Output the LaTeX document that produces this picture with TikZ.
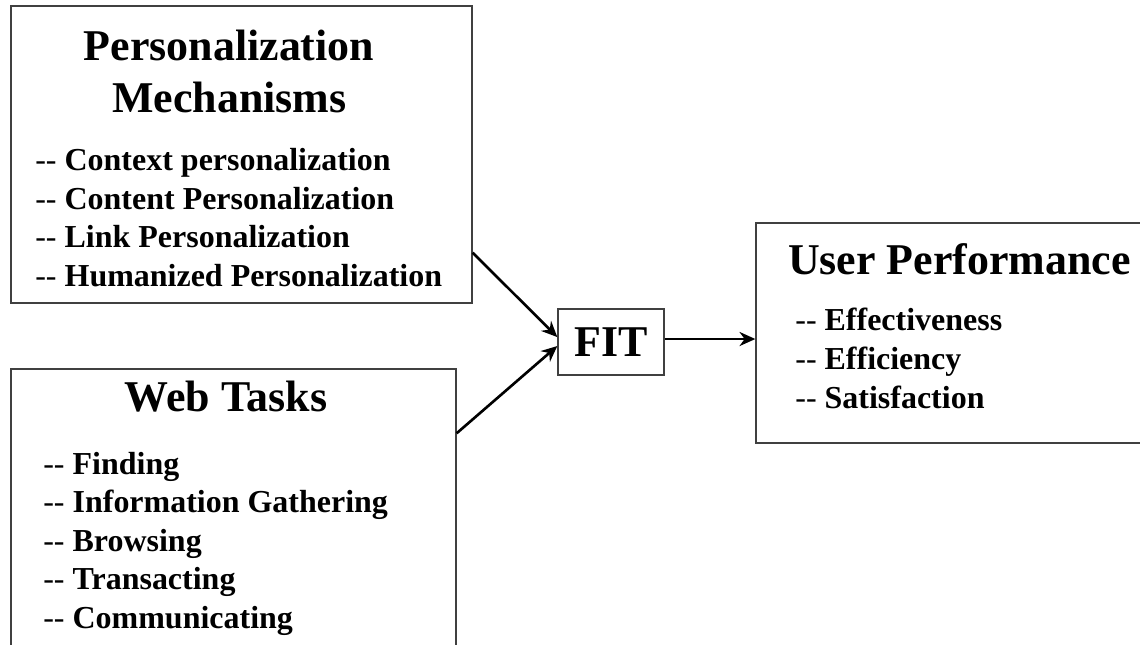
\documentclass[tikz,border=0pt]{standalone}
\usepackage{fontspec}
\setmainfont{Liberation Serif}
\usepackage{tikz}
\usetikzlibrary{arrows.meta}

% plain (not bold) double hyphen in front of each entry
\newcommand{\itemdash}{{\mdseries -{}-}}

\tikzset{
  panel/.style={draw=black!75, line width=0.8pt, rectangle, inner sep=0pt},
  heading/.style={font=\bfseries\fontsize{25}{30}\selectfont, inner sep=0pt, anchor=base},
  entry/.style={font=\bfseries\fontsize{18.2}{22}\selectfont, inner sep=0pt, anchor=base west},
  link/.style={-{Stealth[length=9pt,width=8pt]}, line width=1.5pt}
}

\begin{document}
\begin{tikzpicture}[x=0.02cm,y=-0.02cm]
\useasboundingbox (0,0) rectangle (1140,645);
\clip (0,0) rectangle (1140,645);

% the four boxes
\node[panel, minimum width=9.22cm, minimum height=5.94cm] (mech) at (241.5,154.5) {};
\node[panel, minimum width=8.9cm, minimum height=5.82cm] (tasks) at (233.5,514.5) {};
\node[panel, minimum width=2.12cm, minimum height=1.32cm,
      font=\bfseries\fontsize{25}{30}\selectfont] (fit) at (611,342) {FIT};
\node[panel, minimum width=7.88cm, minimum height=4.4cm] (perf) at (953,333) {};

% headings
\node[heading] (mech-title1) at (229,61) {Personalization};
\node[heading] (mech-title2) at (229.5,113) {Mechanisms};
\node[heading] (tasks-title) at (226,412) {Web Tasks};
\node[heading] (perf-title) at (959.5,275) {User Performance};

% entries
\foreach \txt [count=\i from 0] in {Context personalization, Content Personalization,
    Link Personalization, Humanized Personalization}
  \node[entry] (mech-\i) at (35,171+38.5*\i) {\itemdash\ \txt};

\foreach \txt [count=\i from 0] in {Finding, Information Gathering, Browsing,
    Transacting, Communicating}
  \node[entry] (tasks-\i) at (43,474+38.5*\i) {\itemdash\ \txt};

\foreach \txt [count=\i from 0] in {Effectiveness, Efficiency, Satisfaction}
  \node[entry] (perf-\i) at (795,331+38.5*\i) {\itemdash\ \txt};

% arrows
\draw[link] (mech.-23.6) -- ([yshift=2.8pt]fit.west);
\draw[link] (tasks.20.1) -- ([yshift=-2.3pt]fit.west);
\draw[link] ([yshift=1.7pt]fit.east) -- ([yshift=1.7pt]fit.east -| perf.west);

\end{tikzpicture}
\end{document}
